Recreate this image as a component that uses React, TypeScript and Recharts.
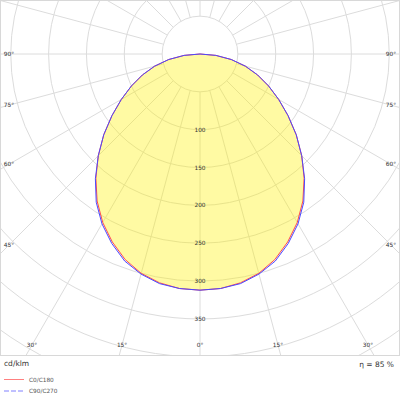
import React from 'react';
import { RadarChart, Radar, PolarGrid, PolarAngleAxis, PolarRadiusAxis } from 'recharts';

// C-plane angle around the chart (0 = nadir, increasing clockwise toward the left)
const gammaAngles = [
  0, 5, 10, 15, 20, 25, 30, 35, 40, 45, 50, 55, 60, 65, 70, 75, 80, 85, 90,
  95, 100, 105, 110, 115, 120, 125, 130, 135, 140, 145, 150, 155, 160, 165, 170, 175, 180,
  185, 190, 195, 200, 205, 210, 215, 220, 225, 230, 235, 240, 245, 250, 255, 260, 265, 270,
  275, 280, 285, 290, 295, 300, 305, 310, 315, 320, 325, 330, 335, 340, 345, 350, 355,
];

// Gamma angles (deg) for which intensities are given; above 90 the luminaire emits nothing
const thetaDeg = [0, 5, 10, 15, 20, 25, 30, 35, 40, 45, 50, 55, 60, 65, 70, 75, 80, 85, 90];
const intensityC0C180 = [312, 311, 307, 300, 289, 274, 257, 237, 214, 190, 166, 142, 120, 100, 81, 62, 42, 21, 0];
const intensityC90C270 = [312, 311, 308, 301, 291, 276, 259, 239, 215, 190, 166, 142, 120, 100, 81, 62, 42, 21, 0];

const angleTicks = [0, 15, 30, 45, 60, 75, 90, 105, 120, 135, 150, 165, 180, 195, 210, 225, 240, 255, 270, 285, 300, 315, 330, 345];
const radiusTicks = [50, 100, 150, 200, 250, 300, 350, 400, 450, 500];
const radiusLabels = [100, 150, 200, 250, 300, 350];

const data = gammaAngles.map((g) => {
  const t = g <= 180 ? g : 360 - g;
  const idx = thetaDeg.indexOf(t);
  return {
    gamma: g,
    c0: idx >= 0 ? intensityC0C180[idx] : 0,
    c90: idx >= 0 ? intensityC90C270[idx] : 0,
  };
});

const CX = 200;
const CY = 54;
const R_IN = 37.85;
const R_OUT = 378.5;
const FONT = "'DejaVu Sans', Verdana, sans-serif";

const AngleTick = (props: any) => {
  const { payload } = props;
  const g = payload.value;
  const t = g <= 180 ? g : 360 - g;
  if (t > 90) return <g />;
  const a = (-payload.coordinate * Math.PI) / 180;
  const dx = Math.cos(a);
  const dy = Math.sin(a);
  const cands: number[] = [];
  if (dx < -1e-6) cands.push((9 - CX) / dx);
  if (dx > 1e-6) cands.push((391 - CX) / dx);
  if (dy > 1e-6) cands.push((345 - CY) / dy);
  const k = Math.min(...cands);
  const x = CX + dx * k;
  const y = CY + dy * k;
  return (
    <text x={x} y={y} textAnchor="middle" dominantBaseline="central" fontSize={5.8} fontFamily={FONT} fill="#333">
      {`${t}°`}
    </text>
  );
};

const RadiusTick = (props: any) => {
  const { x, y, payload } = props;
  if (!radiusLabels.includes(payload.value)) return <g />;
  return (
    <text x={x} y={y} textAnchor="middle" dominantBaseline="central" fontSize={5.8} fontFamily={FONT} fill="#333">
      {payload.value}
    </text>
  );
};

export default function App() {
  return (
    <div style={{ position: 'absolute', left: 0, top: 0, width: 400, height: 400, background: '#fff' }}>
      <style>{'body{margin:0;}'}</style>
      <div style={{ position: 'absolute', left: 0, top: 0, width: 400, height: 356, overflow: 'hidden' }}>
        <RadarChart
          width={400}
          height={356}
          data={data}
          cx={CX}
          cy={CY}
          innerRadius={R_IN}
          outerRadius={R_OUT}
          startAngle={-90}
          endAngle={-450}
          margin={{ top: 0, right: 0, bottom: 0, left: 0 }}
        >
          <PolarGrid gridType="circle" stroke="#dcdcdc" strokeWidth={1} />
          <PolarAngleAxis
            dataKey="gamma"
            type="number"
            domain={[0, 360]}
            ticks={angleTicks}
            tick={AngleTick}
            axisLine={false}
            tickLine={false}
          />
          <PolarRadiusAxis
            angle={-90}
            type="number"
            domain={[50, 500]}
            allowDataOverflow
            ticks={radiusTicks}
            tick={RadiusTick}
            axisLine={false}
            tickLine={false}
          />
          <Radar
            name="C0/C180"
            dataKey="c0"
            stroke="#ff4a4a"
            strokeWidth={1}
            fill="#fff000"
            fillOpacity={0.36}
            dot={false}
            activeDot={false}
            isAnimationActive={false}
          />
          <Radar
            name="C90/C270"
            dataKey="c90"
            stroke="#4a4aff"
            strokeWidth={1}
            fill="none"
            fillOpacity={0}
            dot={false}
            activeDot={false}
            isAnimationActive={false}
          />
        </RadarChart>
      </div>
      <div
        style={{
          position: 'absolute', left: 0, top: 0, width: 400, height: 356,
          border: '1px solid #d8d8d8', boxSizing: 'border-box', pointerEvents: 'none',
        }}
      />
      <div style={{ position: 'absolute', left: 4, top: 359, fontFamily: FONT, fontSize: 7.5, color: '#333', lineHeight: '10px' }}>
        cd/klm
      </div>
      <div style={{ position: 'absolute', right: 6, top: 360, fontFamily: FONT, fontSize: 7.5, color: '#333', lineHeight: '10px', whiteSpace: 'pre' }}>
        η = 85 %
      </div>
      <svg style={{ position: 'absolute', left: 0, top: 372 }} width={120} height={26}>
        <line x1={4} y1={7.5} x2={24} y2={7.5} stroke="#ff8080" strokeWidth={1} />
        <text x={29} y={7.5} dominantBaseline="central" fontSize={5.8} fontFamily={FONT} fill="#555">C0/C180</text>
        <line x1={4} y1={19} x2={24} y2={19} stroke="#8080ff" strokeWidth={1} strokeDasharray="5 2" />
        <text x={29} y={19} dominantBaseline="central" fontSize={5.8} fontFamily={FONT} fill="#555">C90/C270</text>
      </svg>
    </div>
  );
}
